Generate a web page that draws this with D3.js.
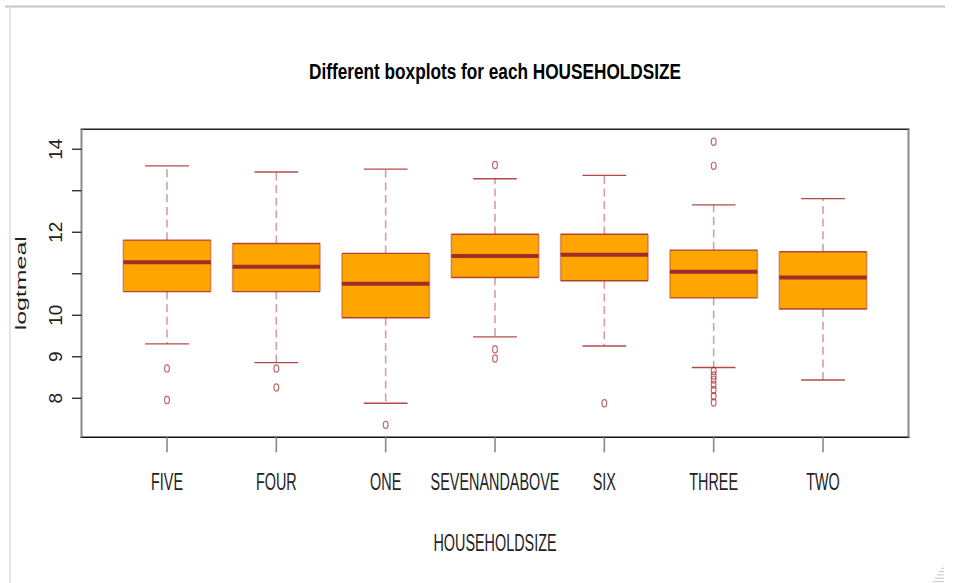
<!DOCTYPE html>
<html>
<head>
<meta charset="utf-8">
<script src="https://cdn.jsdelivr.net/npm/d3@7"></script>
<style>
  html, body { margin: 0; padding: 0; background: #fff; }
  svg { display: block; }
  text { font-family: "Liberation Sans", Arial, sans-serif; }
</style>
</head>
<body>
<svg id="chart" width="979" height="583"></svg>
<script>
// Box statistics of logtmeal per household size
const categories   = ["FIVE", "FOUR", "ONE", "SEVENANDABOVE", "SIX", "THREE", "TWO"];
const lowerWhisker = [9.31, 8.86, 7.88, 9.48, 9.26, 8.74, 8.44];
const q1           = [10.57, 10.57, 9.94, 10.91, 10.83, 10.42, 10.15];
const medians      = [11.28, 11.17, 10.76, 11.43, 11.46, 11.05, 10.91];
const q3           = [11.81, 11.73, 11.49, 11.95, 11.95, 11.57, 11.53];
const upperWhisker = [13.60, 13.45, 13.52, 13.29, 13.37, 12.66, 12.81];
const outliers     = [
  [8.72, 7.96],
  [8.72, 8.26],
  [7.36],
  [13.62, 9.18, 8.96],
  [7.88],
  [14.18, 13.60, 8.66, 8.55, 8.45, 8.33, 8.20, 8.05, 7.90],
  []
];
const yTicks    = [8, 9, 10, 11, 12, 13, 14];
const yLabelled = [8, 9, 10, 12, 14];

const title  = "Different boxplots for each HOUSEHOLDSIZE";
const xTitle = "HOUSEHOLDSIZE";
const yTitle = "logtmeal";

const boxes = categories.map((c, i) => ({
  cat: c, lo: lowerWhisker[i], q1: q1[i], med: medians[i], q3: q3[i], hi: upperWhisker[i], out: outliers[i]
}));

const svg = d3.select("#chart");
const plot = { left: 81.5, right: 908.5, top: 129.3, bottom: 437.3 };

const x = d3.scalePoint().domain(categories).range([plot.left, plot.right]).padding(0.782);
const y = d3.scaleLinear().domain([7.06, 14.48]).range([plot.bottom, plot.top]);
const boxW = x.step() * 0.8;
const capW = boxW * 0.5;

const brown = "#A52A2A";

// window frame around the plot device
svg.append("line").attr("x1", 5).attr("x2", 945).attr("y1", 6.5).attr("y2", 6.5)
  .attr("stroke", "#c4c4c4").attr("stroke-width", 2);
svg.append("line").attr("x1", 10).attr("x2", 10).attr("y1", 6).attr("y2", 583)
  .attr("stroke", "#dcdcdc").attr("stroke-width", 1.5);
// resize grip
const grip = svg.append("g").attr("stroke", "#c8c8c8").attr("stroke-width", 1);
d3.range(6).forEach(k => {
  const yy = 565 + k * 3.3;
  grip.append("line").attr("x1", 943 - k * 2).attr("x2", 944).attr("y1", yy).attr("y2", yy);
});

// title
svg.append("text")
  .attr("x", (plot.left + plot.right) / 2).attr("y", 79)
  .attr("text-anchor", "middle")
  .attr("font-size", 22).attr("font-weight", "bold")
  .attr("textLength", 372).attr("lengthAdjust", "spacingAndGlyphs")
  .attr("fill", "#000")
  .text(title);

// boxplots
const g = svg.append("g");
boxes.forEach(b => {
  const cx = x(b.cat);
  const bg = g.append("g");
  // whiskers
  bg.append("line").attr("x1", cx).attr("x2", cx).attr("y1", y(b.q3)).attr("y2", y(b.hi))
    .attr("stroke", brown).attr("stroke-opacity", 0.45).attr("stroke-width", 1.6).attr("stroke-dasharray", "8,4.6");
  bg.append("line").attr("x1", cx).attr("x2", cx).attr("y1", y(b.q1)).attr("y2", y(b.lo))
    .attr("stroke", brown).attr("stroke-opacity", 0.45).attr("stroke-width", 1.6).attr("stroke-dasharray", "8,4.6");
  // staples
  [b.lo, b.hi].forEach(v => {
    bg.append("line").attr("x1", cx - capW / 2).attr("x2", cx + capW / 2).attr("y1", y(v)).attr("y2", y(v))
      .attr("stroke", brown).attr("stroke-opacity", 0.85).attr("stroke-width", 1.4);
  });
  // box
  bg.append("rect").attr("x", cx - boxW / 2).attr("width", boxW)
    .attr("y", y(b.q3)).attr("height", y(b.q1) - y(b.q3))
    .attr("fill", "#FFA500");
  [cx - boxW / 2, cx + boxW / 2].forEach(xx => {
    bg.append("line").attr("x1", xx).attr("x2", xx).attr("y1", y(b.q3)).attr("y2", y(b.q1))
      .attr("stroke", brown).attr("stroke-opacity", 0.4).attr("stroke-width", 1.6);
  });
  [b.q1, b.q3].forEach(v => {
    bg.append("line").attr("x1", cx - boxW / 2).attr("x2", cx + boxW / 2).attr("y1", y(v)).attr("y2", y(v))
      .attr("stroke", brown).attr("stroke-opacity", 0.85).attr("stroke-width", 1.4);
  });
  // median
  bg.append("line").attr("x1", cx - boxW / 2).attr("x2", cx + boxW / 2).attr("y1", y(b.med)).attr("y2", y(b.med))
    .attr("stroke", brown).attr("stroke-width", 4);
  // outliers
  bg.selectAll("ellipse").data(b.out).join("ellipse")
    .attr("cx", cx).attr("cy", d => y(d)).attr("rx", 2.4).attr("ry", 3.6)
    .attr("fill", "none").attr("stroke", brown).attr("stroke-opacity", 0.7).attr("stroke-width", 1.2);
});

// plot frame
svg.append("line").attr("x1", plot.left - 1).attr("x2", plot.right + 1).attr("y1", plot.top).attr("y2", plot.top)
  .attr("stroke", "#222").attr("stroke-width", 1.5);
svg.append("line").attr("x1", plot.left - 1).attr("x2", plot.right + 1).attr("y1", plot.bottom).attr("y2", plot.bottom)
  .attr("stroke", "#111").attr("stroke-width", 1.5);
[plot.left, plot.right].forEach(xx => {
  svg.append("line").attr("x1", xx).attr("x2", xx).attr("y1", plot.top).attr("y2", plot.bottom)
    .attr("stroke", "#8a8a8a").attr("stroke-width", 2);
});

// y axis
const yAxis = svg.append("g");
yAxis.selectAll("line").data(yTicks).join("line")
  .attr("x1", plot.left - 9.5).attr("x2", plot.left).attr("y1", d => y(d)).attr("y2", d => y(d))
  .attr("stroke", "#222").attr("stroke-width", 1.3);
yAxis.selectAll("text").data(yLabelled).join("text")
  .attr("transform", d => `translate(62,${y(d)}) rotate(-90)`)
  .attr("text-anchor", "middle").attr("font-size", 19).attr("fill", "#222")
  .text(d => d);

svg.append("text")
  .attr("transform", `translate(25.5,${(plot.top + plot.bottom) / 2}) rotate(-90) scale(1.72,1)`)
  .attr("text-anchor", "middle").attr("font-size", 14.5).attr("fill", "#222")
  .text(yTitle);

// x axis
const xAxis = svg.append("g");
xAxis.selectAll("line").data(categories).join("line")
  .attr("x1", d => x(d)).attr("x2", d => x(d)).attr("y1", plot.bottom).attr("y2", plot.bottom + 15)
  .attr("stroke", "#8a8a8a").attr("stroke-width", 1.6);
xAxis.selectAll("text").data(categories).join("text")
  .attr("transform", d => `translate(${x(d)},490) scale(0.6,1)`)
  .attr("text-anchor", "middle").attr("font-size", 24).attr("fill", "#222")
  .text(d => d);

svg.append("text")
  .attr("transform", `translate(${(plot.left + plot.right) / 2},551) scale(0.6,1)`)
  .attr("text-anchor", "middle").attr("font-size", 24).attr("fill", "#222")
  .text(xTitle);
</script>
</body>
</html>
